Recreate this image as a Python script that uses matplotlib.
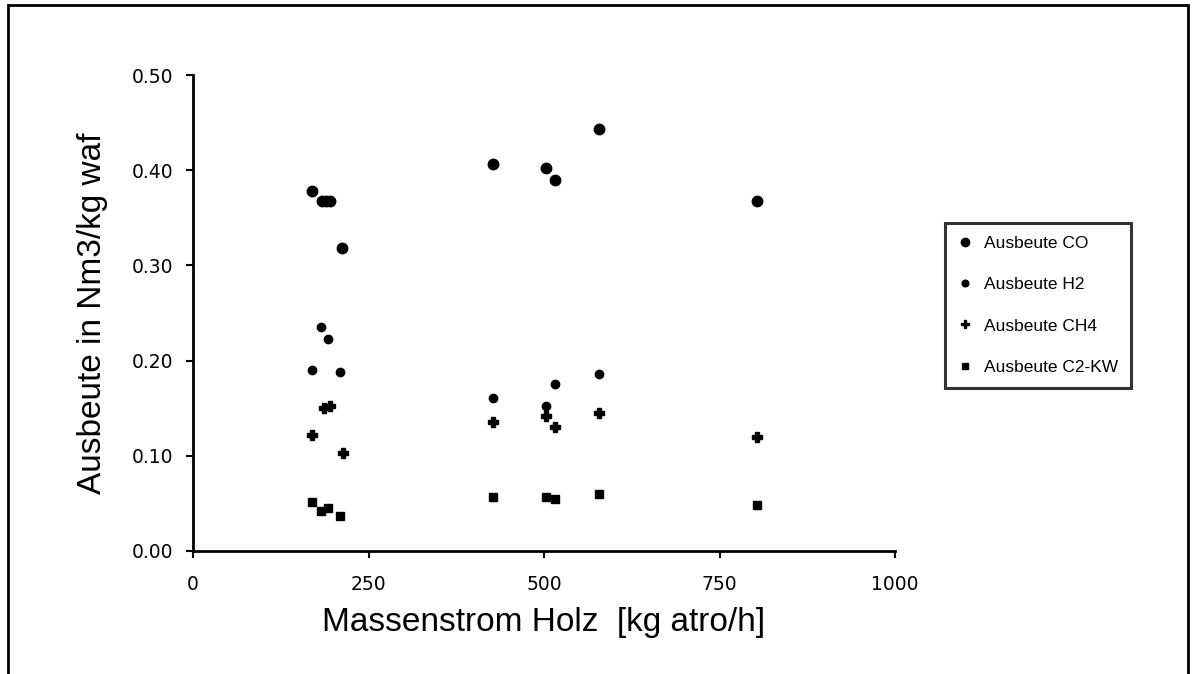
import matplotlib
matplotlib.use("Agg")
import matplotlib.pyplot as plt
from matplotlib.patches import Rectangle

plt.rcParams['font.family'] = ['Liberation Sans', 'DejaVu Sans']

# Massenstrom Holz [kg atro/h] und Ausbeuten [Nm3/kg waf]
co_x = [170, 184, 190, 195, 212, 428, 503, 515, 578, 803]
co_y = [0.378, 0.368, 0.368, 0.368, 0.318, 0.407, 0.402, 0.390, 0.443, 0.368]

h2_x = [170, 183, 193, 210, 428, 503, 515, 578]
h2_y = [0.190, 0.235, 0.223, 0.188, 0.161, 0.152, 0.175, 0.186]

ch4_x = [170, 186, 195, 213, 428, 503, 515, 578, 803]
ch4_y = [0.122, 0.150, 0.152, 0.103, 0.136, 0.142, 0.130, 0.145, 0.120]

c2_x = [170, 183, 193, 210, 428, 503, 515, 578, 803]
c2_y = [0.052, 0.042, 0.045, 0.037, 0.057, 0.057, 0.055, 0.060, 0.048]

x_ticks = [0, 250, 500, 750, 1000]
y_ticks = [0.0, 0.1, 0.2, 0.3, 0.4, 0.5]

fig = plt.figure(figsize=(11.95, 6.74), dpi=100)
ax = fig.add_axes([0.1615, 0.1825, 0.5875, 0.706])

ax.plot(co_x, co_y, 'o', color='black', markersize=7.5, label='Ausbeute CO')
ax.plot(h2_x, h2_y, 'o', color='black', markersize=6, label='Ausbeute H2')
ax.plot(ch4_x, ch4_y, 'P', color='black', markersize=7, label='Ausbeute CH4')
ax.plot(c2_x, c2_y, 's', color='black', markersize=5.5, label='Ausbeute C2-KW')

ax.set_xlim(0, 1000)
ax.set_ylim(0, 0.5)
ax.set_xticks(x_ticks)
ax.set_xticklabels([str(v) for v in x_ticks], family='DejaVu Sans', fontsize=13.5)
ax.set_yticks(y_ticks)
ax.set_yticklabels(['%.2f' % v for v in y_ticks], family='DejaVu Sans', fontsize=13.5)
ax.tick_params(width=1.5, length=5, direction='out')
ax.tick_params(axis='x', pad=12)
ax.tick_params(axis='y', pad=9)
ax.spines['top'].set_visible(False)
ax.spines['right'].set_visible(False)
ax.spines['left'].set_linewidth(2)
ax.spines['bottom'].set_linewidth(2)

ax.set_xlabel('Massenstrom Holz  [kg atro/h]', fontsize=24, labelpad=10)
ax.set_ylabel('Ausbeute in Nm3/kg waf', fontsize=24, labelpad=17)

leg = fig.legend(loc='upper left', bbox_to_anchor=(945 / 1195, 1 - 223 / 674), fontsize=12.5,
                 frameon=True, fancybox=False, edgecolor='black', labelspacing=1.5,
                 handlelength=0.8, handletextpad=0.7, borderpad=0.75, borderaxespad=0,
                 markerscale=0.8)
leg.get_frame().set_linewidth(2.2)

# Rahmen um die ganze Grafik
fig.patches.append(Rectangle((8 / 1195, -0.02), 1180 / 1195, 1 - 5 / 674 + 0.02,
                             transform=fig.transFigure, fill=False,
                             edgecolor='black', linewidth=2))

fig.savefig('out.png', dpi=100)
